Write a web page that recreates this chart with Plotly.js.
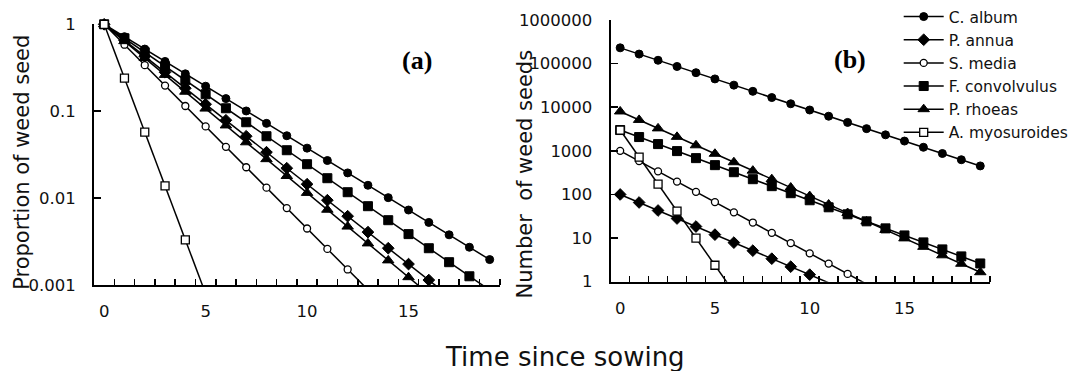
<!DOCTYPE html>
<html>
<head>
<meta charset="utf-8">
<script src="https://cdn.plot.ly/plotly-3.0.1.min.js"></script>
<style>html,body{margin:0;padding:0;background:#fff;}#chart{width:1074px;height:371px;}</style>
</head>
<body>
<div id="chart"></div>
<script>
// ---- data ----
const years = [0,1,2,3,4,5,6,7,8,9,10,11,12,13,14,15,16,17,18,19];
const speciesNames = ["C. album","P. annua","S. media","F. convolvulus","P. rhoeas","A. myosuroides"];

// (a) proportion of weed seed remaining
const propCAlbum   = [1,0.7204,0.5188,0.3737,0.2692,0.1939,0.1396,0.1006,0.07244,0.05219,0.03758,0.02707,0.0195,0.01405,0.01012,0.00729,0.00525,0.00378,0.00272,0.00196];
const propPAnnua   = [1,0.6546,0.4285,0.2805,0.1837,0.1202,0.0787,0.05152,0.03373,0.02208,0.01445,0.00946,0.00619,0.00406,0.00265,0.00174,0.00114,0.000745,0.000488,0.000319];
const propSMedia   = [1,0.5821,0.3388,0.1972,0.1148,0.06683,0.0389,0.02265,0.01318,0.00767,0.00447,0.0026,0.00151,0.000881,0.000513];
const propFConv    = [1,0.6902,0.4764,0.3289,0.227,0.1567,0.1081,0.07464,0.05152,0.03556,0.02455,0.01694,0.01169,0.00807,0.00557,0.00385,0.00265,0.00183,0.00126,0.000873];
const propPRhoeas  = [1,0.6397,0.4093,0.2618,0.1675,0.1072,0.06855,0.04385,0.02805,0.01795,0.01148,0.00735,0.0047,0.00301,0.00192,0.00123,0.000787,0.000504,0.000322];
const propAMyo     = [1,0.2399,0.05754,0.0138,0.00331,0.000794];

// (b) number of weed seeds
const numCAlbum    = [230000,165700,119300,85950,61920,44600,32110,23140,16660,12000,8643,6226,4485,3232,2328,1677,1208,869,626,451];
const numPAnnua    = [100,65.5,42.9,28.1,18.4,12.0,7.87,5.15,3.37,2.21,1.45,0.946,0.619];
const numSMedia    = [1000,582,339,197,115,66.8,38.9,22.7,13.2,7.67,4.47,2.60,1.51,0.881];
const numFConv     = [3000,2071,1429,987,681,470,324,224,155,107,73.7,50.8,35.1,24.2,16.7,11.5,7.96,5.50,3.80,2.62];
const numPRhoeas   = [8000,5118,3274,2094,1340,857,548,351,224,144,91.8,58.8,37.6,24.0,15.4,9.84,6.30,4.03,2.58,1.65];
const numAMyo      = [3000,720,173,41.4,9.93,2.38,0.572];

const xTickVals = [0,5,10,15];
const xTickText = ["0","5","10","15"];
const xMinorVals = [0.5,1.5,2.5,3.5,4.5,5.5,6.5,7.5,8.5,9.5,10.5,11.5,12.5,13.5,14.5,15.5,16.5,17.5,18.5,19.5];
const yATickVals = [0.001,0.01,0.1,1];
const yATickText = ["0.001","0.01","0.1","1"];
const yBTickVals = [1,10,100,1000,10000,100000,1000000];
const yBTickText = ["1","10","100","1000","10000","100000","1000000"];
const yATitle = "Proportion of weed seed";
const yBTitle = "Number  of weed seeds";
const xTitle = "Time since sowing";

// ---- styles ----
const markerStyles = [
  {symbol:"circle", size:8, color:"#000", line:{color:"#000", width:1}},
  {symbol:"diamond", size:9, color:"#000", line:{color:"#000", width:1}},
  {symbol:"circle", size:7, color:"#fff", line:{color:"#000", width:1.3}},
  {symbol:"square", size:9, color:"#000", line:{color:"#000", width:1}},
  {symbol:"triangle-up", size:10, color:"#000", line:{color:"#000", width:1}},
  {symbol:"square", size:8, color:"#fff", line:{color:"#000", width:1.3}}
];
const propSeries = [propCAlbum, propPAnnua, propSMedia, propFConv, propPRhoeas, propAMyo];
const numSeries  = [numCAlbum, numPAnnua, numSMedia, numFConv, numPRhoeas, numAMyo];

const traces = [];
propSeries.forEach((ys, i) => {
  traces.push({
    x: years.slice(0, ys.length), y: ys, xaxis:"x", yaxis:"y",
    type:"scatter", mode:"lines+markers", name: speciesNames[i],
    line:{color:"#000", width:1.5}, marker: markerStyles[i],
    cliponaxis:false, showlegend:false, legendgroup:"g"+i
  });
});
numSeries.forEach((ys, i) => {
  traces.push({
    x: years.slice(0, ys.length), y: ys, xaxis:"x2", yaxis:"y2",
    type:"scatter", mode:"lines+markers", name: speciesNames[i],
    line:{color:"#000", width:1.5}, marker: markerStyles[i],
    cliponaxis:false, showlegend:true, legendgroup:"g"+i
  });
});

const W = 1074, H = 371;
const axFont = {family:"DejaVu Sans", size:16.5, color:"#111"};
function xAxis(d0, d1, anchor){
  return {
    domain:[d0/W, d1/W], anchor: anchor, range:[-0.5,19.5],
    showline:true, linecolor:"#000", linewidth:2, mirror:false,
    showgrid:false, zeroline:false,
    tickmode:"array", tickvals:xTickVals, ticktext:xTickText, ticks:"",
    ticklabelstandoff:10, tickfont:axFont,
    minor:{tickmode:"array", tickvals:xMinorVals, ticks:"inside", ticklen:6, tickwidth:1.5, tickcolor:"#000", showgrid:false}
  };
}
function yAxis(top, bottom, anchor, range, tv, tt){
  return {
    domain:[1-bottom/H, 1-top/H], anchor: anchor, type:"log", range: range,
    showline:true, linecolor:"#000", linewidth:2, showgrid:false, zeroline:false,
    tickmode:"array", tickvals:tv, ticktext:tt, ticks:"inside", ticklen:7, tickwidth:1.5, tickcolor:"#000",
    ticklabelstandoff:13, tickfont:axFont
  };
}
function ann(text, px, py, font, angle){
  return {text:text, x:px/W, y:1-py/H, xref:"paper", yref:"paper", showarrow:false,
          xanchor:"center", yanchor:"middle", textangle:angle||0, font:font};
}

const layout = {
  width:W, height:H, margin:{l:0,r:0,t:0,b:0},
  paper_bgcolor:"#fff", plot_bgcolor:"rgba(0,0,0,0)",
  showlegend:true,
  xaxis: xAxis(95, 505, "y"),
  yaxis: yAxis(24.3, 285, "x", [-3,0], yATickVals, yATickText),
  xaxis2: xAxis(617, 1000, "y2"),
  yaxis2: yAxis(20, 281.7, "x2", [0,6], yBTickVals, yBTickText),
  legend:{x:908/W, y:1, xanchor:"left", yanchor:"top", bgcolor:"rgba(0,0,0,0)",
          font:{family:"DejaVu Sans", size:15.5, color:"#111"}, tracegroupgap:0, itemwidth:40},
  annotations:[
    ann("<b>(a)</b>", 421, 61, {family:"Liberation Serif", size:26, color:"#000"}),
    ann("<b>(b)</b>", 859, 59, {family:"Liberation Serif", size:26, color:"#000"}),
    ann(xTitle, 571, 357, {family:"DejaVu Sans", size:26, color:"#111"}),
    ann(yATitle, 22, 162, {family:"DejaVu Sans", size:21, color:"#111"}, -90),
    ann(yBTitle, 530, 174, {family:"DejaVu Sans", size:21, color:"#111"}, -90)
  ]
};

Plotly.newPlot("chart", traces, layout, {staticPlot:true, displayModeBar:false});
</script>
</body>
</html>
